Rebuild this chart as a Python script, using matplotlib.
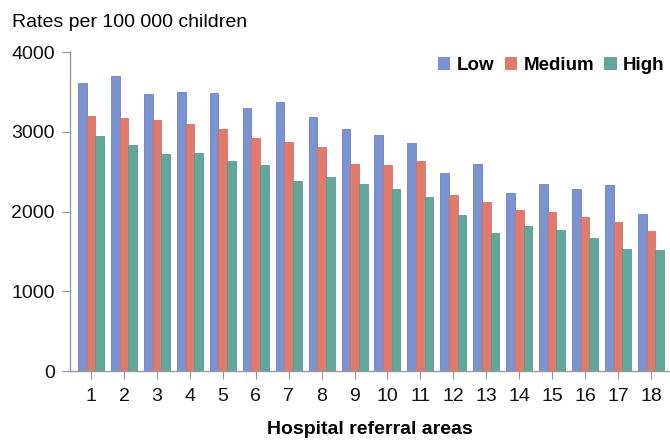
import numpy as np
import matplotlib.pyplot as plt

plt.rcParams['font.family'] = ['Liberation Sans', 'DejaVu Sans']

areas = [str(i) for i in range(1, 19)]
low = [3610, 3705, 3477, 3498, 3483, 3298, 3373, 3189, 3032, 2960,
       2865, 2480, 2598, 2232, 2342, 2285, 2335, 1966]
medium = [3200, 3168, 3143, 3097, 3039, 2918, 2868, 2805, 2595, 2583,
          2633, 2207, 2119, 2023, 1994, 1935, 1872, 1755]
high = [2945, 2830, 2721, 2738, 2630, 2587, 2382, 2433, 2345, 2278,
        2182, 1952, 1726, 1822, 1764, 1664, 1530, 1513]

colors = ['#7b93cf', '#e07b6b', '#62a69c']
edges = ['#6a7fd8', '#d8706a', '#5a9a92']

fig = plt.figure(figsize=(6.7, 4.41), dpi=100)
ax = fig.add_axes([0.1045, 0.1587, 0.8955, 0.7233])

x = np.arange(1, len(areas) + 1)
w = 0.263
for i, (vals, name) in enumerate(zip([low, medium, high], ['Low', 'Medium', 'High'])):
    ax.bar(x + (i - 1) * w, vals, width=w, color=colors[i], edgecolor=edges[i],
           linewidth=0.6, label=name)

ax.set_xlim(0.36, 18.58)
ax.set_ylim(0, 4000)
ax.set_yticks([0, 1000, 2000, 3000, 4000])
ax.set_xticks(x)
ax.set_xticklabels(areas)

for s in ['top', 'right']:
    ax.spines[s].set_visible(False)
for s in ['left', 'bottom']:
    ax.spines[s].set_color('#999999')
    ax.spines[s].set_linewidth(1.0)
ax.tick_params(axis='both', colors='#999999', labelcolor='#111111', labelsize=14)
ax.tick_params(axis='y', length=6, pad=5)
ax.tick_params(axis='x', length=6, pad=6)

ax.set_xlabel('Hospital referral areas', fontsize=14, fontweight='bold', labelpad=12)
fig.text(0.018, 0.9395, 'Rates per 100 000 children', fontsize=14, va='baseline', ha='left')

leg = ax.legend(loc='center right', bbox_to_anchor=(0.991, 0.959), ncol=3, frameon=False,
                prop={'weight': 'bold', 'size': 13.5}, handlelength=0.6, handleheight=0.6,
                handletextpad=0.4, columnspacing=0.55, borderaxespad=0.0, borderpad=0.0)

fig.savefig('out.png', dpi=100)
